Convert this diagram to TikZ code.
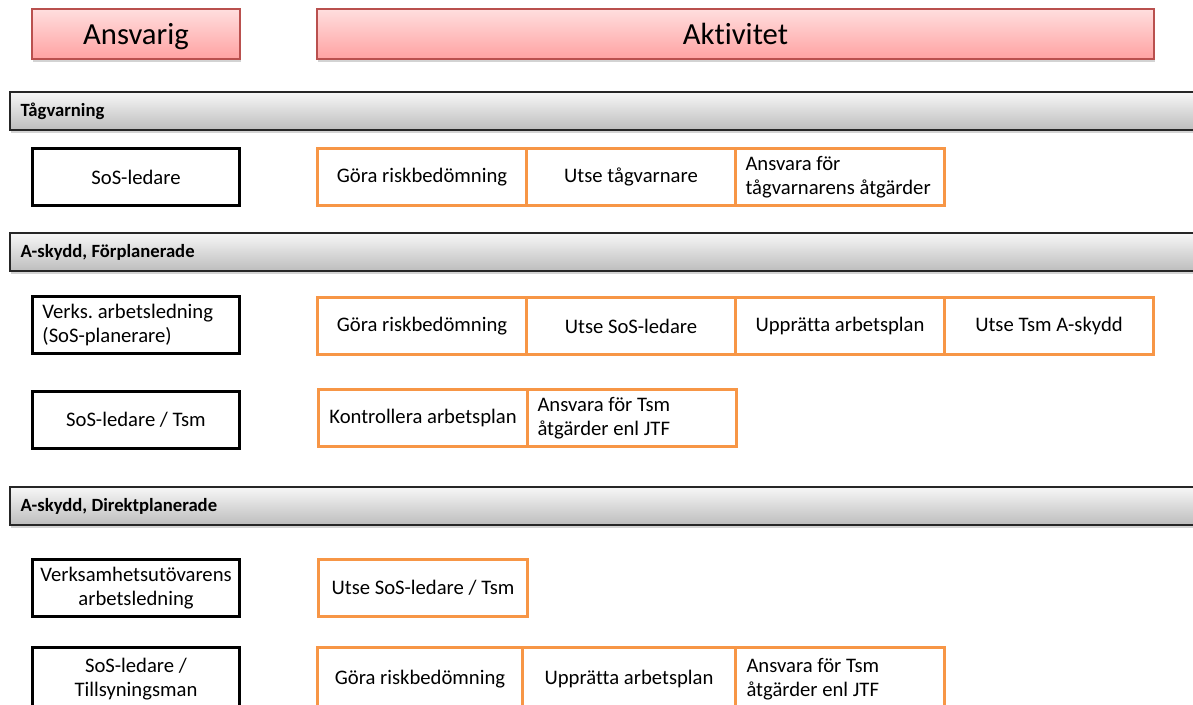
\documentclass[tikz,border=0pt]{standalone}
\usepackage{fontspec}
\setmainfont{Carlito}[Ligatures=NoCommon]
\usetikzlibrary{shapes,shadows}
\definecolor{pinktop}{HTML}{FFDEDE}
\definecolor{pinkbot}{HTML}{FFA2A2}
\definecolor{pinkline}{HTML}{B9504E}
\definecolor{bartop}{HTML}{F7F7F7}
\definecolor{barbot}{HTML}{BDBDBD}
\definecolor{actorange}{HTML}{F79646}
\frenchspacing

\begin{document}
\begin{tikzpicture}[x=0.75pt, y=-0.75pt,
  head/.style={rectangle, draw=pinkline, line width=1pt, top color=pinktop, bottom color=pinkbot,
    minimum height=37.5pt, text depth=0pt, anchor=north west, outer sep=0pt, font=\fontsize{23}{27}\selectfont,
    drop shadow={shadow xshift=1pt, shadow yshift=-2pt, opacity=0.35}},
  bar/.style={rectangle, draw=black!85, line width=1.4pt, top color=bartop, bottom color=barbot,
    minimum height=28.5pt, text width=881pt, inner xsep=8pt, align=flush left, anchor=north west,
    font=\bfseries\fontsize{14}{17}\selectfont,
    drop shadow={shadow xshift=1pt, shadow yshift=-2pt, opacity=0.35}},
  who/.style={rectangle, draw, line width=2.25pt, minimum width=155.25pt, minimum height=42.75pt,
    align=center, anchor=north west, outer sep=0pt, font=\fontsize{15.5}{18}\selectfont},
  whol/.style={who, text width=140.25pt, inner xsep=7.5pt, align=flush left},
  act/.style={rectangle, draw=actorange, line width=2.25pt, minimum width=156.75pt, minimum height=42.75pt,
    align=center, anchor=north west, outer sep=0pt, font=\fontsize{15.5}{18}\selectfont},
  actl/.style={act, text width=141.75pt, inner xsep=7.5pt, align=flush left}]

  \useasboundingbox (0,0) rectangle (1193,704);
  \clip (0,0) rectangle (1193,704);

  % column heads
  \node[head, minimum width=156pt] (ansv) at (32,9) {Ansvarig};
  \node[head, minimum width=627.75pt] (aktiv) at (317,9) {Aktivitet};

  % Tågvarning
  \node[bar] (tagv) at (9,91) {Tågvarning};
  \node[who] (sos1) at (32.5,148.5) {SoS-ledare};
  \node[act] (t1) at (317.5,148.5) {Göra riskbedömning};
  \node[act] (t2) at (526.5,148.5) {Utse tågvarnare};
  \node[actl] (t3) at (735.5,148.5) {Ansvara för\\tågvarnarens åtgärder};

  % A-skydd, Förplanerade
  \node[bar] (fplan) at (9,232) {A-skydd, Förplanerade};
  \node[whol] (verks) at (32.5,296.5) {Verks. arbetsledning\\(SoS-planerare)};
  \node[act] (f1) at (317.5,297.5) {Göra riskbedömning};
  \node[act] (f2) at (526.5,297.5) {Utse SoS-ledare};
  \node[act] (f3) at (735.5,297.5) {Upprätta arbetsplan};
  \node[act] (f4) at (944.5,297.5) {Utse Tsm A-skydd};
  \node[who] (sos2) at (32.5,391.5) {SoS-ledare / Tsm};
  \node[act] (k1) at (318.5,389.5) {Kontrollera arbetsplan};
  \node[actl] (k2) at (527.5,389.5) {Ansvara för Tsm\\åtgärder enl JTF};

  % A-skydd, Direktplanerade
  \node[bar] (dplan) at (9,486) {A-skydd, Direktplanerade};
  \node[who] (verks2) at (32.5,559.5) {Verksamhetsutövarens\\arbetsledning};
  \node[act] (d1) at (318.5,559.5) {Utse SoS-ledare / Tsm};
  \node[who, minimum height=47pt] (sos3) at (32.5,647.5) {SoS-ledare /\\Tillsyningsman};
  \node[act, minimum width=153.75pt, minimum height=47pt] (g1) at (317.5,647.5) {Göra riskbedömning};
  \node[act, minimum width=159.75pt, minimum height=47pt] (g2) at (522.5,647.5) {Upprätta arbetsplan};
  \node[actl, text width=140.25pt, minimum height=47pt] (g3) at (735.5,647.5) {Ansvara för Tsm\\åtgärder enl JTF};

\end{tikzpicture}
\end{document}
